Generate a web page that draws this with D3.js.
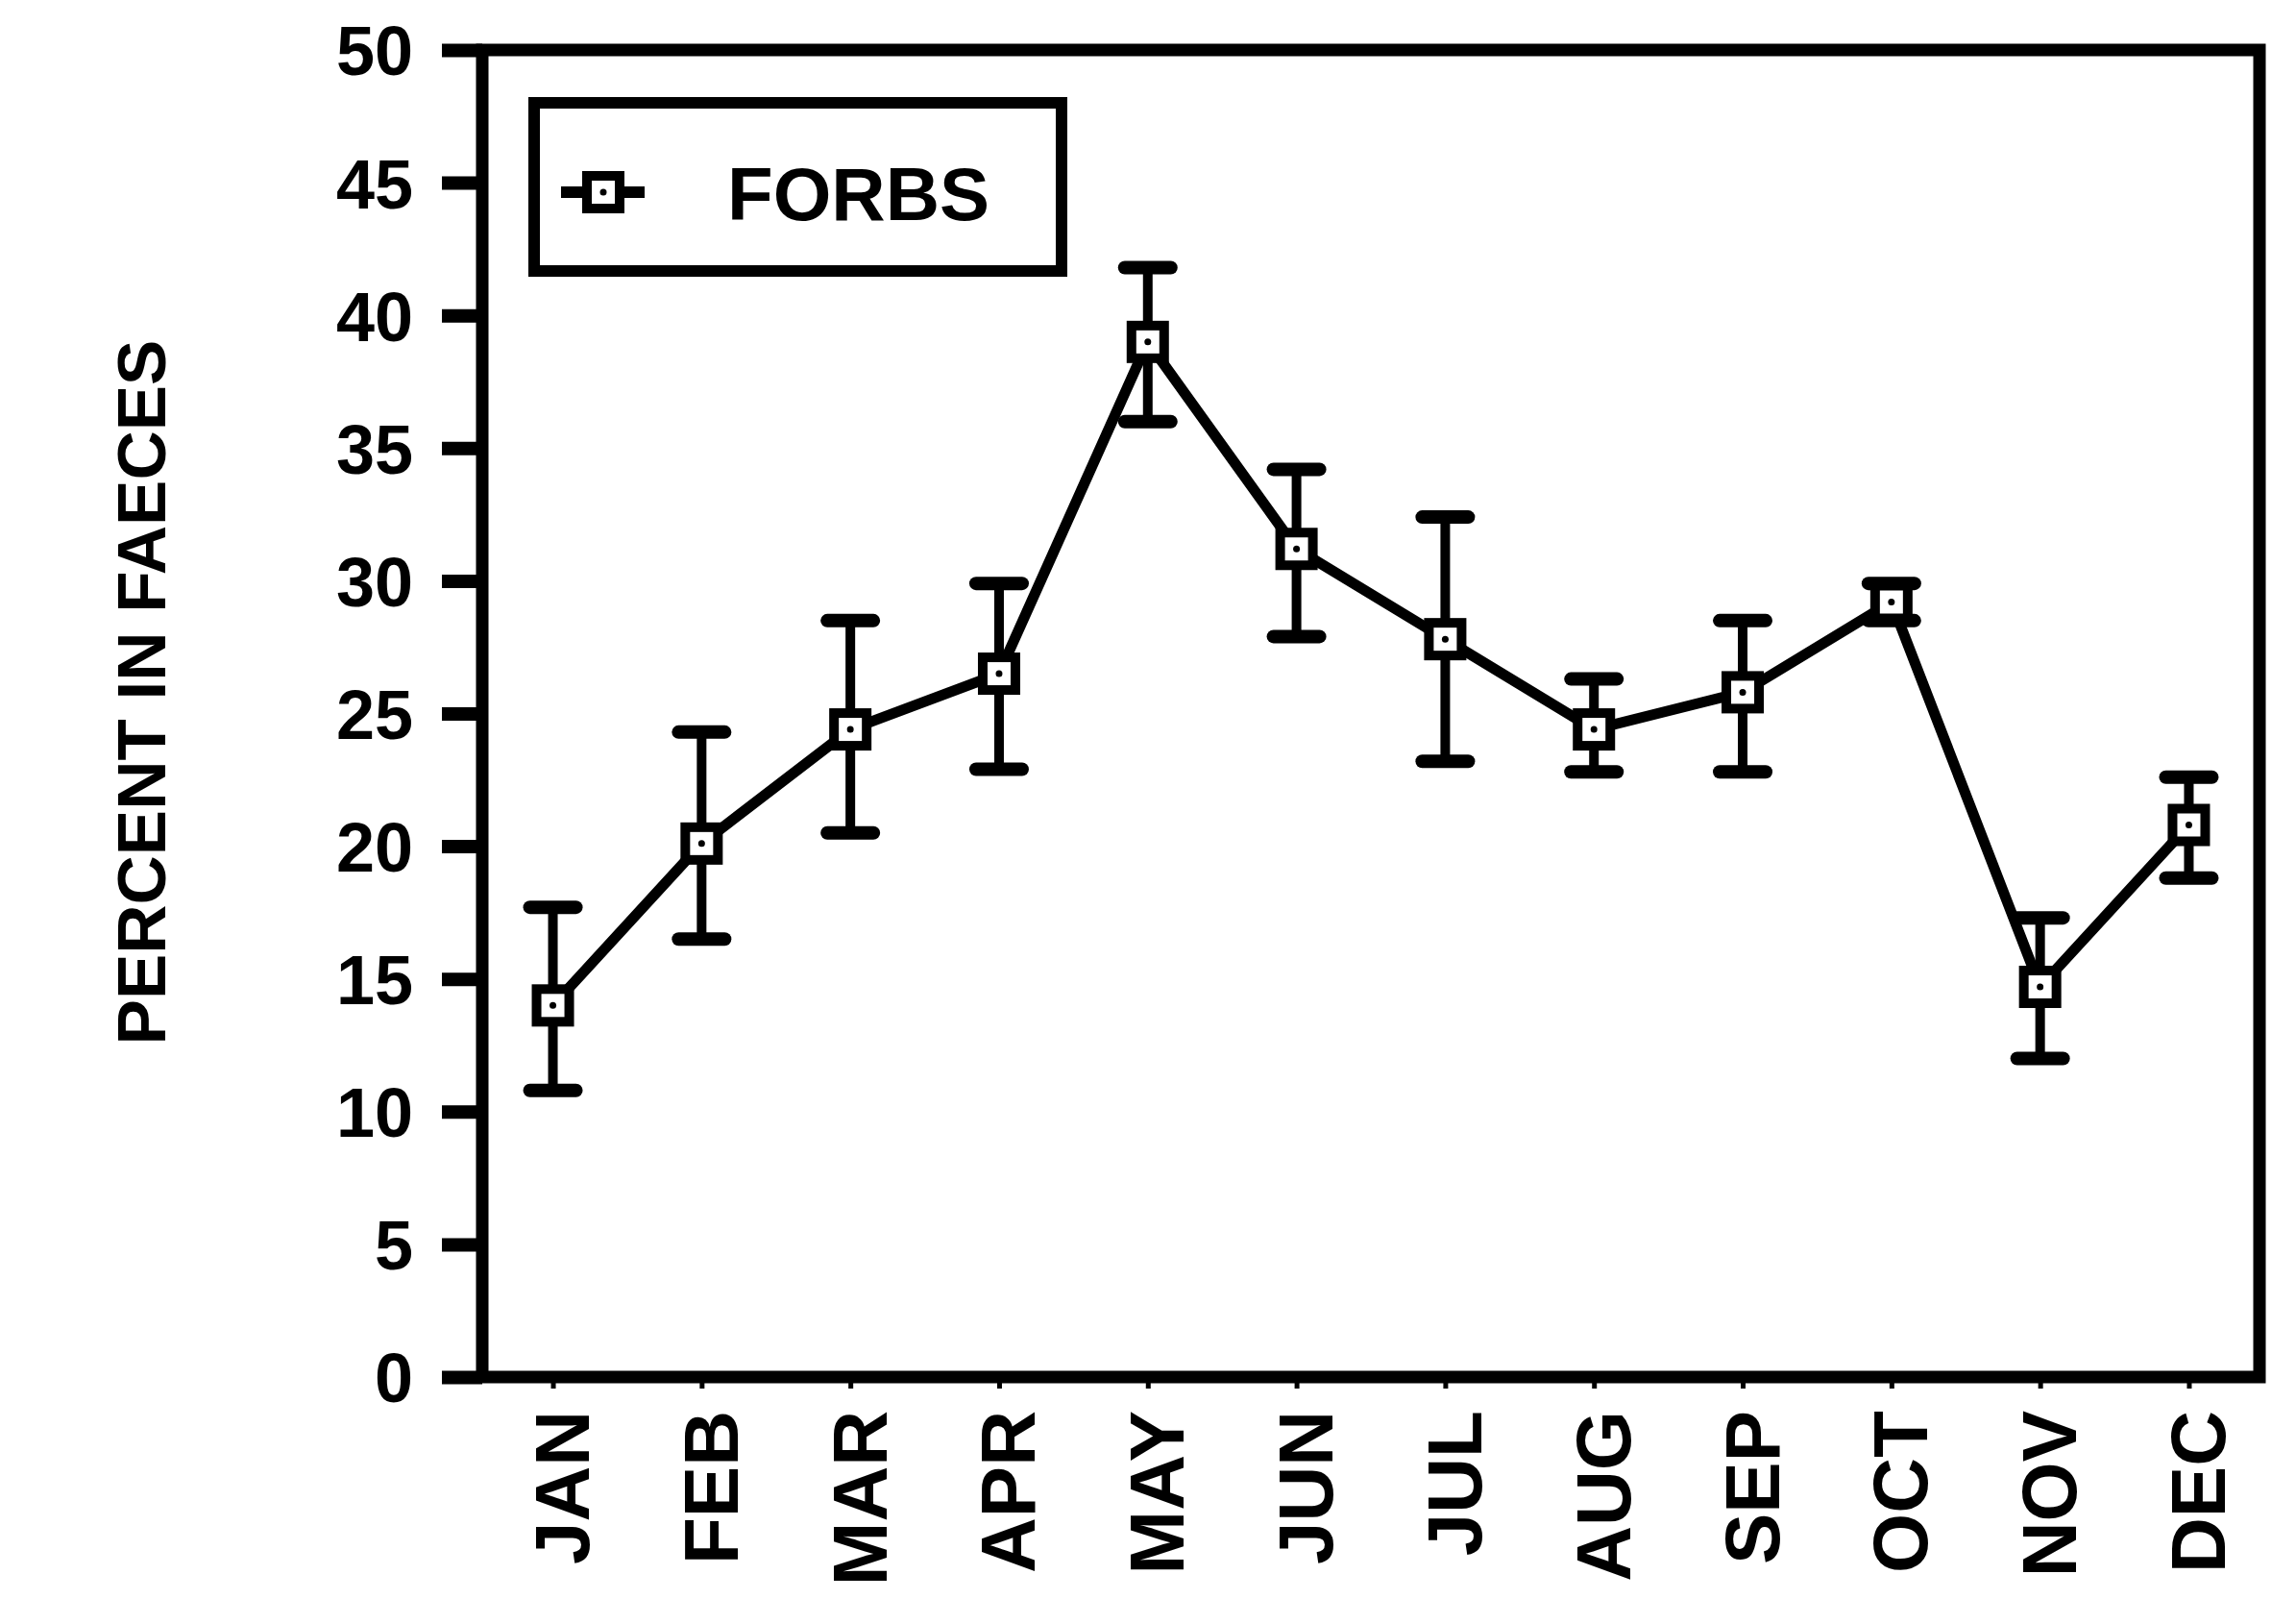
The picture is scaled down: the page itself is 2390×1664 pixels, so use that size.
<!DOCTYPE html>
<html>
<head>
<meta charset="utf-8">
<script src="https://cdn.jsdelivr.net/npm/d3@7"></script>
<style>
  html, body { margin: 0; padding: 0; background: #fff; }
  svg { display: block; }
  text { font-family: "Liberation Sans", Arial, Helvetica, sans-serif; font-weight: bold; fill: #000; }
</style>
</head>
<body>
<script>
// ---- data ----
const months = ["JAN","FEB","MAR","APR","MAY","JUN","JUL","AUG","SEP","OCT","NOV","DEC"];
const forbsMean  = [14.0, 20.1, 24.4, 26.5, 39.0, 31.2, 27.8, 24.4, 25.8, 29.2, 14.7, 20.8];
const forbsUpper = [17.7, 24.3, 28.5, 29.9, 41.8, 34.2, 32.4, 26.3, 28.5, 29.9, 17.3, 22.6];
const forbsLower = [10.8, 16.5, 20.5, 22.9, 36.0, 27.9, 23.2, 22.8, 22.8, 28.5, 12.0, 18.8];
const yTicks = [0, 5, 10, 15, 20, 25, 30, 35, 40, 45, 50];
const seriesName = "FORBS";
const yTitle = "PERCENT IN FAECES";

(function () {
// ---- layout ----
const W = 2390, H = 1664;
const pLeft = 502, pRight = 2352, pTop = 52, pBottom = 1433;

const svg = d3.select("body").append("svg").attr("width", W).attr("height", H);
svg.append("rect").attr("width", W).attr("height", H).attr("fill", "#fff");

const x = d3.scalePoint().domain(months).range([pLeft, pRight]).padding(0.475);
const y = d3.scaleLinear().domain([0, 50]).range([pBottom, pTop]);

// frame
svg.append("rect")
  .attr("x", pLeft).attr("y", pTop)
  .attr("width", pRight - pLeft).attr("height", pBottom - pTop)
  .attr("fill", "none").attr("stroke", "#000").attr("stroke-width", 13);

// y axis
const yAxis = svg.append("g")
  .attr("transform", `translate(${pLeft},0)`)
  .call(d3.axisLeft(y).tickValues(yTicks).tickSize(42).tickPadding(30).tickFormat(d3.format("d")));
yAxis.select(".domain").remove();
yAxis.selectAll(".tick line").attr("stroke", "#000").attr("stroke-width", 14);
yAxis.selectAll(".tick text").style("font-size", "72px").attr("dy", "0.36em");

// x axis
const xAxis = svg.append("g")
  .attr("transform", `translate(0,${pBottom})`)
  .call(d3.axisBottom(x).tickSize(12).tickPadding(0));
xAxis.select(".domain").remove();
xAxis.selectAll(".tick line").attr("stroke", "#000").attr("stroke-width", 5);
xAxis.selectAll(".tick text")
  .style("font-size", "80px")
  .attr("transform", "rotate(-90)")
  .attr("x", -35).attr("y", 37).attr("dy", 0)
  .style("text-anchor", "end");

// y axis title
svg.append("text")
  .attr("transform", `translate(172,${(pTop + pBottom) / 2 - 22}) rotate(-90)`)
  .attr("text-anchor", "middle")
  .style("font-size", "71px")
  .text(yTitle);

// error bars
const capW = 48;
const eb = svg.append("g").attr("stroke", "#000");
months.forEach((m, i) => {
  eb.append("line")
    .attr("x1", x(m)).attr("x2", x(m))
    .attr("y1", y(forbsUpper[i])).attr("y2", y(forbsLower[i]))
    .attr("stroke-width", 10);
  [forbsUpper[i], forbsLower[i]].forEach(v => {
    eb.append("line")
      .attr("x1", x(m) - capW / 2).attr("x2", x(m) + capW / 2)
      .attr("y1", y(v)).attr("y2", y(v))
      .attr("stroke-width", 14).attr("stroke-linecap", "round");
  });
});

// data line
const line = d3.line().x((d, i) => x(months[i])).y(d => y(d));
svg.append("path")
  .datum(forbsMean)
  .attr("d", line)
  .attr("fill", "none").attr("stroke", "#000").attr("stroke-width", 11)
  .attr("stroke-linejoin", "round");

// markers
function marker(g, cx, cy) {
  g.append("rect")
    .attr("x", cx - 17).attr("y", cy - 17).attr("width", 34).attr("height", 34)
    .attr("fill", "#fff").attr("stroke", "#000").attr("stroke-width", 10);
  g.append("circle").attr("cx", cx).attr("cy", cy).attr("r", 3.5).attr("fill", "#000");
}
const mk = svg.append("g");
months.forEach((m, i) => marker(mk, x(m), y(forbsMean[i])));

// legend
const lg = svg.append("g");
lg.append("rect")
  .attr("x", 556).attr("y", 107).attr("width", 549).attr("height", 175)
  .attr("fill", "#fff").attr("stroke", "#000").attr("stroke-width", 12);
lg.append("line")
  .attr("x1", 584).attr("x2", 671).attr("y1", 200).attr("y2", 200)
  .attr("stroke", "#000").attr("stroke-width", 12);
marker(lg, 628, 200);
lg.append("text")
  .attr("x", 757).attr("y", 229)
  .style("font-size", "78px")
  .text(seriesName);
})();
</script>
</body>
</html>
